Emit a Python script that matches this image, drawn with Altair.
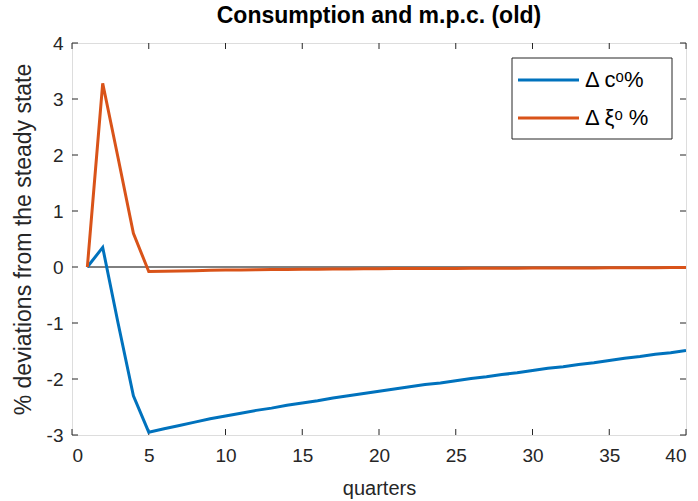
import altair as alt
import pandas as pd

quarters = list(range(1, 41))
c_old = [0.0, 0.35, -1.0, -2.3, -2.95, -2.89, -2.83, -2.77, -2.71, -2.66,
         -2.61, -2.56, -2.52, -2.47, -2.43, -2.39, -2.34, -2.30, -2.26, -2.22,
         -2.18, -2.14, -2.10, -2.07, -2.03, -1.99, -1.96, -1.92, -1.89, -1.85,
         -1.81, -1.78, -1.74, -1.71, -1.67, -1.63, -1.60, -1.56, -1.53, -1.49]
xi_old = [0.0, 3.28, 1.95, 0.6, -0.08, -0.075, -0.07, -0.065, -0.06, -0.055,
          -0.052, -0.049, -0.046, -0.043, -0.04, -0.038, -0.036, -0.034, -0.032, -0.03,
          -0.029, -0.028, -0.027, -0.026, -0.025, -0.024, -0.023, -0.022, -0.021, -0.02,
          -0.019, -0.018, -0.017, -0.016, -0.015, -0.014, -0.013, -0.012, -0.011, -0.01]
series_names = ["Δ cᵒ%", "Δ ξᵒ %"]
series_colors = ["#0072BD", "#D95319"]
x_ticks = [0, 5, 10, 15, 20, 25, 30, 35, 40]
y_ticks = [-3, -2, -1, 0, 1, 2, 3, 4]

W, H = 614, 392
FONT = "Liberation Sans"
TXT = "#262626"

df = pd.DataFrame({
    "quarter": quarters * 2,
    "value": c_old + xi_old,
    "series": [series_names[0]] * 40 + [series_names[1]] * 40,
})
zero_df = pd.DataFrame({"quarter": [quarters[0]], "quarter2": [quarters[-1]], "value": [0.0]})
xt = pd.DataFrame({"v": x_ticks})
yt = pd.DataFrame({"v": y_ticks})

xscale = alt.Scale(domain=[0, 40], nice=False, zero=False)
yscale = alt.Scale(domain=[-3, 4], nice=False, zero=False)
XT = "quarters"
YT = "% deviations from the steady state"
LBL = "'' + datum.value"
xax = alt.Axis(values=x_ticks, labelExpr=LBL, grid=False, ticks=False, domain=False,
               labelFontSize=19, labelColor=TXT, labelFont=FONT, labelPadding=11,
               titleFontSize=20, titleFont=FONT, titleColor=TXT,
               titleFontWeight="normal", titlePadding=13)
yax = alt.Axis(values=y_ticks, labelExpr=LBL, grid=False, ticks=False, domain=False,
               labelFontSize=19, labelColor=TXT, labelFont=FONT, labelPadding=9,
               titleFontSize=23, titleFont=FONT, titleColor=TXT,
               titleFontWeight="normal", titlePadding=11)


def X(field):
    return alt.X(field, scale=xscale, title=XT, axis=xax)


def Y(field):
    return alt.Y(field, scale=yscale, title=YT, axis=yax)


zero = alt.Chart(zero_df).mark_rule(color="black", strokeWidth=1).encode(
    x=X("quarter:Q"), x2="quarter2:Q", y=Y("value:Q"))

lines = alt.Chart(df).mark_line(strokeWidth=3, clip=True).encode(
    x=X("quarter:Q"),
    y=Y("value:Q"),
    color=alt.Color("series:N", sort=series_names,
                    scale=alt.Scale(domain=series_names, range=series_colors), legend=None),
    order="quarter:Q",
)

tick_len = 6
xb = alt.Chart(xt).mark_rule(color=TXT, strokeWidth=1).encode(
    x=X("v:Q"), y=alt.value(H), y2=alt.value(H - tick_len))
xtop = alt.Chart(xt).mark_rule(color=TXT, strokeWidth=1).encode(
    x=X("v:Q"), y=alt.value(0), y2=alt.value(tick_len))
yl = alt.Chart(yt).mark_rule(color=TXT, strokeWidth=1).encode(
    y=Y("v:Q"), x=alt.value(0), x2=alt.value(tick_len))
yr = alt.Chart(yt).mark_rule(color=TXT, strokeWidth=1).encode(
    y=Y("v:Q"), x=alt.value(W), x2=alt.value(W - tick_len))

# manual MATLAB-style legend box
leg_df = pd.DataFrame({"series": series_names})
LX0, LX1, LY0, LY1 = 440, 600, 15, 96
ROWS = [37, 75]
leg_box = alt.Chart(leg_df.head(1)).mark_rect(fill="white", stroke=TXT, strokeWidth=1).encode(
    x=alt.value(LX0), x2=alt.value(LX1), y=alt.value(LY0), y2=alt.value(LY1))
leg_layers = [leg_box]
for i, name in enumerate(series_names):
    d = leg_df.iloc[[i]]
    leg_layers.append(alt.Chart(d).mark_rule(strokeWidth=3, color=series_colors[i]).encode(
        x=alt.value(446), x2=alt.value(507), y=alt.value(ROWS[i])))
    leg_layers.append(alt.Chart(d).mark_text(align="left", baseline="middle", fontSize=22,
                                             font=FONT, color="black").encode(
        x=alt.value(513), y=alt.value(ROWS[i]), text="series:N"))

chart = alt.layer(xb, xtop, yl, yr, zero, lines, *leg_layers).properties(
    width=W, height=H,
    title=alt.Title("Consumption and m.p.c. (old)", fontSize=23, fontWeight="bold",
                    font=FONT, color="black", offset=6, anchor="middle"),
    autosize=alt.AutoSizeParams(type="none"),
    padding={"left": 72, "top": 43, "right": 12, "bottom": 66},
).configure_view(stroke=TXT, strokeWidth=1).configure(background="white")

chart.save("out.html", embed_options={"renderer": "svg", "actions": False})
